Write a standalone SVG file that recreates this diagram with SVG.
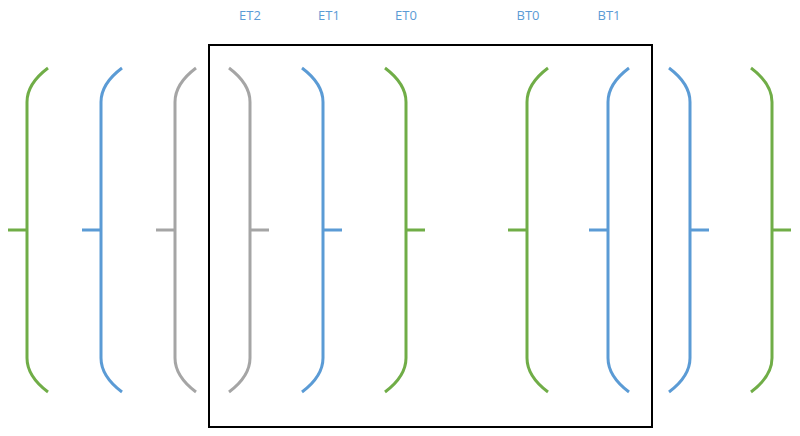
<svg xmlns="http://www.w3.org/2000/svg" width="800" height="436" viewBox="0 0 800 436">
<style>
.b{fill:none;stroke-width:3}
.g{stroke:#70AD47}
.u{stroke:#5B9BD5}
.y{stroke:#A5A5A5}
.t{font-family:"Open Sans","Liberation Sans",sans-serif;font-size:13px;fill:#5B9BD5;text-anchor:middle}
</style>
<defs>
<path id="L" d="M21,-162 C9,-153 0,-142 0,-128 V128 C0,142 9,153 21,162 M0,0 H-19"/>
<path id="R" d="M-21,-162 C-9,-153 0,-142 0,-128 V128 C0,142 -9,153 -21,162 M0,0 H19"/>
</defs>
<rect x="209" y="45" width="443" height="382" fill="none" stroke="#000" stroke-width="2"/>
<g id="labels">
<text class="t" x="250" y="20">ET2</text>
<text class="t" x="329" y="20">ET1</text>
<text class="t" x="406" y="20">ET0</text>
<text class="t" x="528" y="20">BT0</text>
<text class="t" x="609" y="20">BT1</text>
</g>
<g id="n1"><use href="#L" class="b g" x="27" y="230"/></g>
<g id="n2"><use href="#L" class="b u" x="101" y="230"/></g>
<g id="n3"><use href="#L" class="b y" x="175" y="230"/></g>
<g id="n4"><use href="#R" class="b y" x="250" y="230"/></g>
<g id="n5"><use href="#R" class="b u" x="323" y="230"/></g>
<g id="n6"><use href="#R" class="b g" x="406" y="230"/></g>
<g id="n7"><use href="#L" class="b g" x="527" y="230"/></g>
<g id="n8"><use href="#L" class="b u" x="608" y="230"/></g>
<g id="n9"><use href="#R" class="b u" x="690" y="230"/></g>
<g id="n10"><use href="#R" class="b g" x="772" y="230"/></g>
<g id="connectors"></g>
</svg>
